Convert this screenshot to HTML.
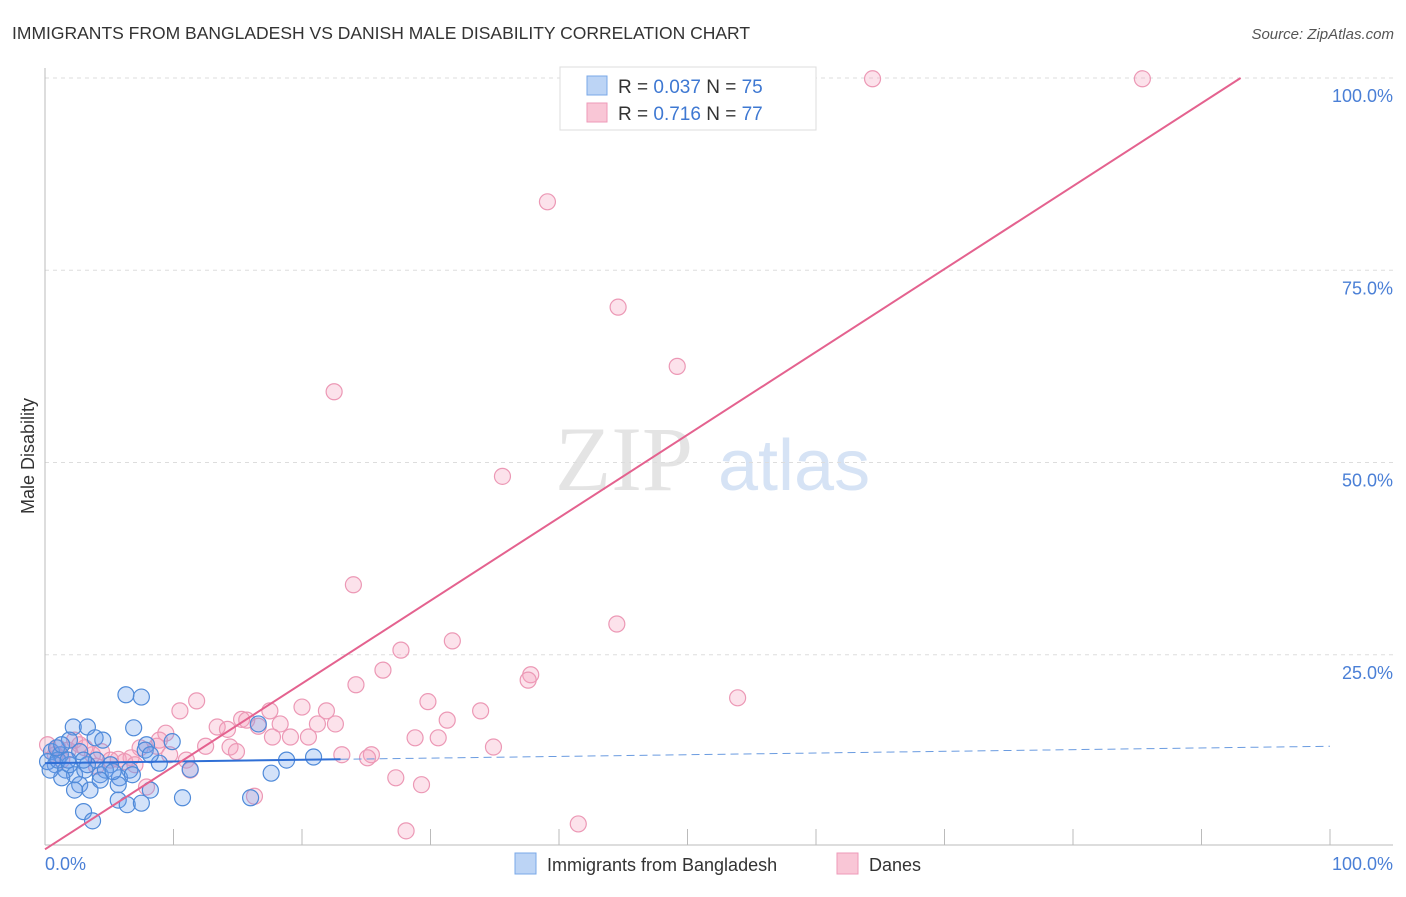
<!DOCTYPE html>
<html><head><meta charset="utf-8"><style>
body{margin:0;background:#fff;font-family:"Liberation Sans",sans-serif;}
</style></head><body>
<svg id="c" width="1406" height="892" xmlns="http://www.w3.org/2000/svg" style="font-family:'Liberation Sans',sans-serif">
<text x="12" y="39" font-size="17.5" fill="#333">IMMIGRANTS FROM BANGLADESH VS DANISH MALE DISABILITY CORRELATION CHART</text>
<text x="1394" y="39" font-size="15" fill="#555" font-style="italic" text-anchor="end">Source: ZipAtlas.com</text>
<g>
<text x="555" y="490" font-size="92" font-family="'Liberation Serif',serif" fill="#e4e4e4">ZIP</text>
<text x="718" y="490" font-size="72" fill="#d6e3f5">atlas</text></g>
<g id="grid"></g>
<g id="axes"></g>
<g id="pts"></g>
<g id="lines"></g>
<g>
<rect x="560" y="67" width="256" height="63" fill="#fff" stroke="#ddd"/>
<rect x="587" y="76" width="20" height="19" fill="#bcd4f5" stroke="#7aa8e8"/>
<rect x="587" y="103" width="20" height="19" fill="#f9c6d6" stroke="#ee9ab8"/>
<text x="618" y="93" font-size="19" fill="#333">R = <tspan fill="#3e78d2">0.037</tspan>   N = <tspan fill="#3e78d2">75</tspan></text>
<text x="618" y="120" font-size="19" fill="#333">R =  <tspan fill="#3e78d2">0.716</tspan>   N = <tspan fill="#3e78d2">77</tspan></text>
</g>
<g>
<rect x="515" y="853" width="21" height="21" fill="#bcd4f5" stroke="#7aa8e8"/>
<text x="547" y="871" font-size="18" fill="#333">Immigrants from Bangladesh</text>
<rect x="837" y="853" width="21" height="21" fill="#f9c6d6" stroke="#ee9ab8"/>
<text x="869" y="871" font-size="18" fill="#333">Danes</text>
</g>
<text transform="translate(34,456) rotate(-90)" font-size="18" fill="#333" text-anchor="middle">Male Disability</text>
</svg>
<script>
const blueX=[6.3,7.5,2.2,3.3,6.9,1.9,3.9,4.5,7.9,9.9,7.8,0.5,1.2,2.7,4.0,5.1,6.6,8.9,11.3,0.8,1.6,2.3,3.1,4.3,5.8,1.3,2.7,3.5,5.7,8.2,5.7,6.4,7.5,10.7,16.0,3.0,3.7,17.6,18.8,20.9,16.6,0.2,0.4,1.0,1.9,3.3,4.7,6.8,4.3,2.3,1.8,3.0,0.9,5.3,8.2,1.3];
const blueY=[19.8,19.5,15.6,15.6,15.5,13.9,14.2,13.9,13.3,13.7,12.6,12.4,12.0,12.4,11.3,10.7,10.0,10.9,10.1,10.7,10.0,9.4,10.0,9.4,9.0,9.0,8.1,7.4,8.1,7.4,6.1,5.5,5.7,6.4,6.4,4.6,3.4,9.6,11.3,11.7,16.0,11.1,10.0,11.3,10.7,10.7,10.0,9.4,8.7,7.4,11.3,11.3,12.9,9.8,12.0,13.3];
const pinkX=[64.4,85.4,47.9,51.8,39.1,44.6,49.2,22.5,35.6,24.0,44.5,31.7,27.7,26.3,24.2,37.8,37.6,53.9,11.8,10.5,29.8,17.5,15.3,15.7,20.0,33.9,21.9,31.3,13.4,14.2,18.3,21.2,22.6,16.6,9.4,12.5,17.7,19.1,20.5,28.8,30.6,34.9,14.4,14.9,7.4,8.7,5.7,6.7,11.0,23.1,25.4,25.1,11.3,27.3,29.3,7.9,16.3,28.1,41.5,0.2,1.0,1.8,2.7,3.7,4.4,5.1,6.2,1.3,2.3,3.1,0.8,4.0,7.0,8.9,9.7];
const pinkY=[99.9,99.9,99.9,99.9,83.9,70.2,62.5,59.2,48.2,34.1,29.0,26.8,25.6,23.0,21.1,22.4,21.7,19.4,19.0,17.7,18.9,17.7,16.6,16.5,18.2,17.7,17.7,16.5,15.6,15.3,16.0,16.0,16.0,15.7,14.8,13.1,14.3,14.3,14.3,14.2,14.2,13.0,13.0,12.4,12.9,13.1,11.4,11.6,11.3,12.0,12.0,11.6,10.0,9.0,8.1,7.8,6.6,2.1,3.0,13.3,12.9,12.6,13.3,12.0,12.4,11.3,11.1,11.3,13.9,12.9,12.0,10.5,10.7,13.9,12.0];
const yTicks=[25,50,75,100];
const yTickLabels=["25.0%","50.0%","75.0%","100.0%"];
const blueTrend=[10.9,13.1]; // y at x=0, x=100
const pinkTrend=[-0.3,107.5];
const sx=v=>45+v*12.85, sy=v=>847-v*7.69;
const NS="http://www.w3.org/2000/svg";
function mk(tag,attrs,parent){const e=document.createElementNS(NS,tag);for(const k in attrs)e.setAttribute(k,attrs[k]);parent.appendChild(e);return e;}
const grid=document.getElementById('grid'),axes=document.getElementById('axes'),pts=document.getElementById('pts'),lines=document.getElementById('lines');
yTicks.forEach((t,i)=>{
 const l=mk('line',{x1:45,x2:1393,y1:sy(t),y2:sy(t),stroke:'#ddd','stroke-dasharray':'4,4'},grid);
 
 
 const tx=mk('text',{x:1393,y:sy(t)+24,'font-size':18,fill:'#4a7fd6','text-anchor':'end'},axes);
 tx.textContent=yTickLabels[i];
 
 
});
let a=mk('line',{x1:45,x2:45,y1:68,y2:845,stroke:'#bbb'},axes);


a=mk('line',{x1:45,x2:1393,y1:845,y2:845,stroke:'#bbb'},axes);


for(let i=1;i<=10;i++){const t=mk('line',{x1:sx(i*10),x2:sx(i*10),y1:829,y2:845,stroke:'#bbb'},axes);
 
 }
let xl=mk('text',{x:45,y:870,'font-size':18,fill:'#4a7fd6'},axes);xl.textContent='0.0%';


xl=mk('text',{x:1393,y:870,'font-size':18,fill:'#4a7fd6','text-anchor':'end'},axes);xl.textContent='100.0%';


pinkX.forEach((x,i)=>{const c=mk('circle',{cx:sx(x),cy:sy(pinkY[i]),r:8,fill:'rgba(244,160,188,0.3)',stroke:'#ec98b5','stroke-width':1.2},pts);
 
 });
blueX.forEach((x,i)=>{const c=mk('circle',{cx:sx(x),cy:sy(blueY[i]),r:8,fill:'rgba(110,160,235,0.3)',stroke:'#4f8ad9','stroke-width':1.2},pts);
 
 });
const by=x=>blueTrend[0]+(blueTrend[1]-blueTrend[0])*x/100;
let ln=mk('line',{x1:sx(0),y1:sy(by(0)),x2:sx(23),y2:sy(by(23)),stroke:'#2f6fd6','stroke-width':2},lines);


ln=mk('line',{x1:sx(23),y1:sy(by(23)),x2:sx(100),y2:sy(by(100)),stroke:'#6a9be0','stroke-width':1,'stroke-dasharray':'8,5'},lines);


const py=x=>pinkTrend[0]+(pinkTrend[1]-pinkTrend[0])*x/100;
const xEnd=(100-pinkTrend[0])/(pinkTrend[1]-pinkTrend[0])*100;
ln=mk('line',{x1:sx(0),y1:sy(py(0)),x2:sx(xEnd),y2:sy(100),stroke:'#e4628f','stroke-width':2},lines);


</script>
</body></html>
